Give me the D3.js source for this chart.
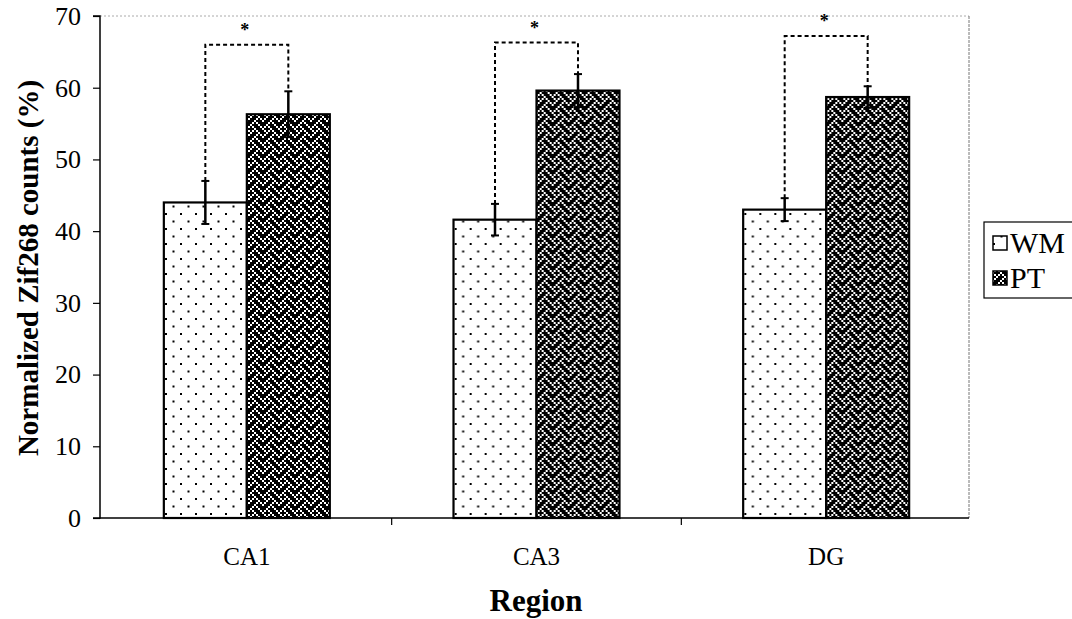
<!DOCTYPE html>
<html>
<head>
<meta charset="utf-8">
<script src="https://cdn.jsdelivr.net/npm/d3@7"></script>
<style>
  html, body { margin: 0; padding: 0; background: #fff; }
  svg { display: block; }
  text { font-family: "Liberation Serif", "Times New Roman", serif; fill: #000; }
</style>
</head>
<body>
<svg id="chart" width="1072" height="619"></svg>
<script>
// ---- data ----
const categories = ["CA1", "CA3", "DG"];
const seriesNames = ["WM", "PT"];
const wmValues = [44.0, 41.6, 43.0];
const ptValues = [56.3, 59.6, 58.7];
const wmErrors = [3.0, 2.2, 1.6];
const ptErrors = [3.2, 2.3, 1.5];
const bracketLevels = [66.0, 66.3, 67.2];
const yTicks = [0, 10, 20, 30, 40, 50, 60, 70];
const yTitle = "Normalized Zif268 counts (%)";
const xTitle = "Region";

const svg = d3.select("#chart");
const defs = svg.append("defs");

// dotted pattern (WM)
const pd = defs.append("pattern").attr("id", "dots").attr("patternUnits", "userSpaceOnUse")
  .attr("width", 15).attr("height", 15);
pd.append("rect").attr("width", 15).attr("height", 15).attr("fill", "#fff");
pd.append("rect").attr("x", 3).attr("y", 3).attr("width", 2).attr("height", 2).attr("fill", "#000");
pd.append("rect").attr("x", 10.5).attr("y", 10.5).attr("width", 2).attr("height", 2).attr("fill", "#000");

// weave pattern (PT): 8x8 weave bitmap, white bits on black ground
const weaveRows = [0x88, 0x54, 0x22, 0x45, 0x88, 0x14, 0x22, 0x51];
const B = 2, T = B * 8;
const pw = defs.append("pattern").attr("id", "weave").attr("patternUnits", "userSpaceOnUse")
  .attr("width", T).attr("height", T);
pw.append("rect").attr("width", T).attr("height", T).attr("fill", "#000");
const bits = [];
weaveRows.forEach((r, ri) => {
  for (let c = 0; c < 8; c++) if (r & (0x80 >> c)) bits.push([c, ri]);
});
bits.forEach(([c, r]) => {
  pw.append("rect").attr("x", c * B).attr("y", r * B)
    .attr("width", B).attr("height", B).attr("fill", "#fff");
});

// ---- scales ----
const x = d3.scaleBand().domain(categories).range([102, 971]).paddingInner(0).paddingOuter(0);
const bw = x.bandwidth();
const x1 = d3.scaleBand().domain(seriesNames).range([bw * 0.2135, bw * 0.7865]);
const y = d3.scaleLinear().domain([0, 70]).range([518, 16]);

const plotLeft = 100, plotRight = 969;

// plot border (top & right, light dotted)
svg.append("line").attr("x1", plotLeft).attr("x2", plotRight).attr("y1", y(70)).attr("y2", y(70))
  .attr("stroke", "#aaa").attr("stroke-width", 1).attr("stroke-dasharray", "2,2");
svg.append("line").attr("x1", plotRight).attr("x2", plotRight).attr("y1", y(70)).attr("y2", y(0))
  .attr("stroke", "#777").attr("stroke-width", 1).attr("stroke-dasharray", "3,1");

// bars
const rows = categories.map((c, i) => ({
  cat: c,
  vals: [
    { s: "WM", v: wmValues[i], e: wmErrors[i] },
    { s: "PT", v: ptValues[i], e: ptErrors[i] }
  ],
  br: bracketLevels[i]
}));
const fills = { WM: "url(#dots)", PT: "url(#weave)" };

const g = svg.selectAll("g.grp").data(rows).enter().append("g")
  .attr("transform", d => `translate(${x(d.cat)},0)`);

g.selectAll("rect.bar").data(d => d.vals).enter().append("rect")
  .attr("x", d => x1(d.s)).attr("width", x1.bandwidth())
  .attr("y", d => y(d.v)).attr("height", d => y(0) - y(d.v))
  .attr("fill", d => fills[d.s]).attr("stroke", "#000").attr("stroke-width", 2.2);

// error bars
const eb = g.selectAll("g.err").data(d => d.vals).enter().append("g");
eb.append("line")
  .attr("x1", d => x1(d.s) + x1.bandwidth() / 2).attr("x2", d => x1(d.s) + x1.bandwidth() / 2)
  .attr("y1", d => y(d.v + d.e)).attr("y2", d => y(d.v - d.e))
  .attr("stroke", "#000").attr("stroke-width", 2.5);
[1, -1].forEach(sgn => {
  eb.append("line")
    .attr("x1", d => x1(d.s) + x1.bandwidth() / 2 - 4).attr("x2", d => x1(d.s) + x1.bandwidth() / 2 + 4)
    .attr("y1", d => y(d.v + sgn * d.e)).attr("y2", d => y(d.v + sgn * d.e))
    .attr("stroke", "#000").attr("stroke-width", 2);
});

// significance brackets
g.append("path")
  .attr("d", d => {
    const xa = x1("WM") + x1.bandwidth() / 2, xb = x1("PT") + x1.bandwidth() / 2;
    const ya = y(d.vals[0].v + d.vals[0].e), yb = y(d.vals[1].v + d.vals[1].e), yt = y(d.br);
    return `M${xa},${ya} L${xa},${yt} L${xb},${yt} L${xb},${yb}`;
  })
  .attr("fill", "none").attr("stroke", "#000").attr("stroke-width", 2).attr("stroke-dasharray", "4,3");
g.append("text")
  .attr("x", bw / 2 - 2).attr("y", d => y(d.br) - 9)
  .attr("text-anchor", "middle").attr("font-size", 18).attr("font-weight", "bold").text("*");

// y axis
const yAxis = svg.append("g").attr("transform", `translate(${plotLeft},0)`)
  .call(d3.axisLeft(y).tickValues(yTicks).tickSize(7).tickPadding(12).tickFormat(d3.format("d")));
yAxis.select(".domain").attr("stroke", "#000").attr("stroke-width", 1.5).attr("d", `M-7,${y(70)}H0V${y(0)}H-7`);
yAxis.selectAll(".tick line").attr("stroke", "#000").attr("stroke-width", 1.2);
yAxis.selectAll(".tick text").attr("font-size", 26).attr("fill", "#000");

// x axis
svg.append("line").attr("x1", plotLeft).attr("x2", plotRight).attr("y1", y(0)).attr("y2", y(0))
  .attr("stroke", "#000").attr("stroke-width", 1.5);
const bounds = categories.map(c => x(c)).slice(1);
svg.selectAll("line.xt").data(bounds).enter().append("line")
  .attr("x1", d => d).attr("x2", d => d).attr("y1", y(0)).attr("y2", y(0) + 7)
  .attr("stroke", "#000").attr("stroke-width", 1.2);
svg.selectAll("text.cat").data(categories).enter().append("text")
  .attr("x", d => x(d) + bw / 2).attr("y", 565)
  .attr("text-anchor", "middle").attr("font-size", 25).text(d => d);

// titles
svg.append("text").attr("x", 536).attr("y", 611).attr("text-anchor", "middle")
  .attr("font-size", 31).attr("font-weight", "bold").text(xTitle);
svg.append("text").attr("transform", "translate(38,268) rotate(-90)").attr("text-anchor", "middle")
  .attr("font-size", 29).attr("font-weight", "bold").text(yTitle);

// legend
const lg = svg.append("g");
lg.append("rect").attr("x", 984).attr("y", 222).attr("width", 100).attr("height", 76)
  .attr("fill", "#fff").attr("stroke", "#000").attr("stroke-width", 1.2);
const legY = [243, 278];
seriesNames.forEach((s, i) => {
  lg.append("rect").attr("x", 993).attr("y", legY[i] - 7).attr("width", 14).attr("height", 14)
    .attr("fill", fills[s]).attr("stroke", "#000").attr("stroke-width", 1.5);
  lg.append("text").attr("x", 1010).attr("y", legY[i] + 10).attr("font-size", 30).text(s);
});
</script>
</body>
</html>
